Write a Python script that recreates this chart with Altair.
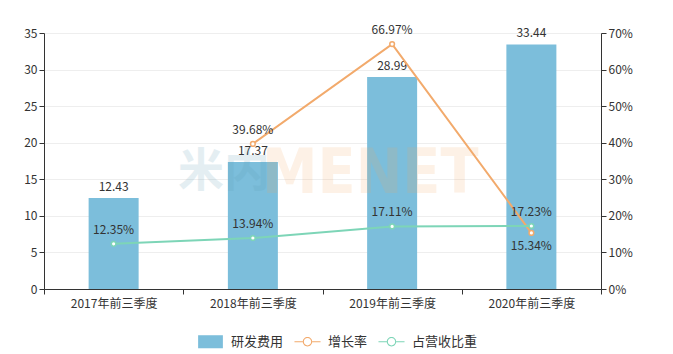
import altair as alt
import pandas as pd

cats = ["2017年前三季度", "2018年前三季度", "2019年前三季度", "2020年前三季度"]
rd = [12.43, 17.37, 28.99, 33.44]
growth = [None, 39.68, 66.97, 15.34]
ratio = [12.35, 13.94, 17.11, 17.23]
series = ["研发费用", "增长率", "占营收比重"]
colors = ["#7cbedb", "#f2aa6c", "#7dd5b7"]

df = pd.DataFrame({"cat": cats, "rd": rd, "growth": growth, "ratio": ratio})
legend_df = pd.DataFrame({"series": series})

FONT = "Noto Sans CJK SC"
TXT = "#333333"

x = alt.X("cat:N", sort=cats,
          scale=alt.Scale(paddingInner=0, paddingOuter=0),
          axis=alt.Axis(title=None, labelAngle=0, tickBand="extent",
                        labelFontSize=12, labelColor=TXT, labelFont=FONT,
                        domainColor="#333", tickColor="#333", labelPadding=4))

yl_scale = alt.Scale(domain=[0, 35], nice=False)
yr_scale = alt.Scale(domain=[0, 70], nice=False)

yl_axis = alt.Axis(title=None, values=[0, 5, 10, 15, 20, 25, 30, 35],
                   gridColor="#eeeeee", domainColor="#333", tickColor="#333",
                   labelFontSize=12, labelColor=TXT, labelFont=FONT, orient="left")

base = alt.Chart(df)

bars = base.mark_bar(color=colors[0], size=50).encode(
    x=x, y=alt.Y("rd:Q", scale=yl_scale, axis=yl_axis))
bar_text = base.mark_text(dy=-11, fontSize=12, color=TXT, font=FONT).encode(
    x=x, y=alt.Y("rd:Q", scale=yl_scale, axis=yl_axis),
    text=alt.Text("rd:Q", format=".2f"),
)

# watermark
wm1 = alt.Chart(pd.DataFrame({"t": ["米内"]})).mark_text(
    align="left", baseline="middle", fontSize=46, fontWeight="bold",
    font=FONT, color="#5b9cb5", opacity=0.16
).encode(x=alt.value(134), y=alt.value(139), text="t:N")
wm2 = alt.Chart(pd.DataFrame({"t": ["MENET"]})).mark_text(
    align="left", baseline="middle", fontSize=62, fontWeight="bold",
    font="DejaVu Sans Condensed", color="#f5a45c", opacity=0.15
).encode(x=alt.value(218), y=alt.value(141), text="t:N")

legend_layer = alt.Chart(legend_df).mark_point(filled=True, opacity=1).encode(
    color=alt.Color("series:N", scale=alt.Scale(domain=series, range=colors),
                    legend=alt.Legend(title=None, orient="none", legendX=153, legendY=295,
                                      direction="horizontal", symbolSize=680,
                                      symbolStrokeWidth=0, labelFontSize=13,
                                      labelColor=TXT, labelFont=FONT, labelOffset=7,
                                      columnPadding=10, symbolOpacity=1)),
    shape=alt.Shape("series:N", scale=alt.Scale(domain=series, range=[
        "M-0.95,-0.5H0.95V0.5H-0.95Z",
        "M-1,-0.04H-0.36V0.04H-1Z M0.36,-0.04H1V0.04H0.36Z M0,-0.36A0.36,0.36 0 1,1 0,0.36A0.36,0.36 0 1,1 0,-0.36Z M0,-0.28A0.28,0.28 0 1,0 0,0.28A0.28,0.28 0 1,0 0,-0.28Z",
        "M-1,-0.04H-0.36V0.04H-1Z M0.36,-0.04H1V0.04H0.36Z M0,-0.36A0.36,0.36 0 1,1 0,0.36A0.36,0.36 0 1,1 0,-0.36Z M0,-0.28A0.28,0.28 0 1,0 0,0.28A0.28,0.28 0 1,0 0,-0.28Z",
    ])),
).transform_filter("false")

left = alt.layer(bars, bar_text, legend_layer, wm1, wm2)

yr_axis = alt.Axis(title=None, values=[0, 10, 20, 30, 40, 50, 60, 70],
                   labelExpr="datum.value + '%'", grid=False, orient="right",
                   domainColor="#333", tickColor="#333",
                   labelFontSize=12, labelColor=TXT, labelFont=FONT)

gbase = base.transform_filter("datum.growth != null").transform_calculate(
    lbl="format(datum.growth, '.2f') + '%'")
g_line = gbase.mark_line(color=colors[1], strokeWidth=2).encode(
    x=x, y=alt.Y("growth:Q", scale=yr_scale, axis=yr_axis))
g_pts = gbase.mark_point(shape="circle", filled=True, fill="white", stroke=colors[1],
                         strokeWidth=1.5, size=22, opacity=1).encode(
    x=x, y=alt.Y("growth:Q", scale=yr_scale, axis=yr_axis))
g_txt_up = gbase.transform_filter("datum.cat != '2020年前三季度'").mark_text(
    dy=-14, fontSize=12, color=TXT, font=FONT).encode(
    x=x, y=alt.Y("growth:Q", scale=yr_scale, axis=yr_axis), text="lbl:N")
g_txt_dn = gbase.transform_filter("datum.cat == '2020年前三季度'").mark_text(
    dy=13, fontSize=12, color=TXT, font=FONT).encode(
    x=x, y=alt.Y("growth:Q", scale=yr_scale, axis=yr_axis), text="lbl:N")

rbase = base.transform_calculate(lbl="format(datum.ratio, '.2f') + '%'")
r_line = rbase.mark_line(color=colors[2], strokeWidth=2).encode(
    x=x, y=alt.Y("ratio:Q", scale=yr_scale, axis=yr_axis))
r_pts = rbase.mark_point(shape="circle", filled=True, fill="white", stroke=colors[2],
                         strokeWidth=1.5, size=22, opacity=1).encode(
    x=x, y=alt.Y("ratio:Q", scale=yr_scale, axis=yr_axis))
r_txt = rbase.mark_text(dy=-14, fontSize=12, color=TXT, font=FONT).encode(
    x=x, y=alt.Y("ratio:Q", scale=yr_scale, axis=yr_axis), text="lbl:N")

right = alt.layer(g_line, r_line, g_pts, r_pts, g_txt_up, g_txt_dn, r_txt)

chart = alt.layer(left, right).resolve_scale(y="independent").properties(
    width=557, height=256,
    padding={"left": 44, "top": 33, "right": 72, "bottom": 65},
    autosize=alt.AutoSizeParams(type="none"),
    background="white",
).configure_view(stroke=None)

chart.save("out.html", embed_options={"renderer": "svg", "actions": False})
